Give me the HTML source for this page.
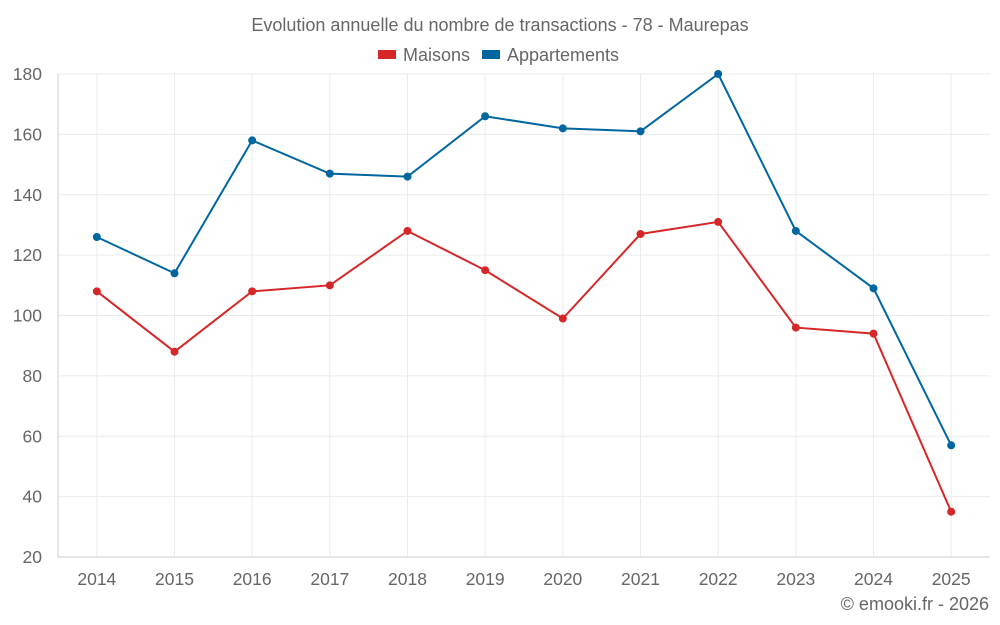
<!DOCTYPE html>
<html><head><meta charset="utf-8"><style>
html,body{margin:0;padding:0;background:#fff;}
svg{display:block;font-family:"Liberation Sans",sans-serif;}
</style></head><body>
<svg id="chart" width="1000" height="625" viewBox="0 0 1000 625" xmlns="http://www.w3.org/2000/svg">
<text x="500" y="31" text-anchor="middle" font-size="18" fill="#666">Evolution annuelle du nombre de transactions - 78 - Maurepas</text>
<g>
<g><rect x="378" y="50" width="18" height="9" fill="#d62728"/><text x="403" y="61" font-size="18" fill="#666">Maisons</text></g>
<g><rect x="482" y="50" width="18" height="9" fill="#0066a0"/><text x="507" y="61" font-size="18" fill="#666">Appartements</text></g>
</g>
<g id="grid"></g>
<g id="axes"></g>
<g id="series"></g>
<text x="989" y="610" text-anchor="end" font-size="18" fill="#666">© emooki.fr - 2026</text>
</svg>
<script>
const categories = ["2014","2015","2016","2017","2018","2019","2020","2021","2022","2023","2024","2025"];
const maisons = [108,88,108,110,128,115,99,127,131,96,94,35];
const appartements = [126,114,158,147,146,166,162,161,180,128,109,57];
const yTicks = [20,40,60,80,100,120,140,160,180];
const NS="http://www.w3.org/2000/svg";
const L=58,R=990,T=74,B=557,yMin=20,yMax=180;
const band=(R-L)/categories.length;
const x=i=>L+band*(i+0.5);
const y=v=>B-(v-yMin)/(yMax-yMin)*(B-T);
function mk(tag,attrs,parent){const e=document.createElementNS(NS,tag);for(const k in attrs)e.setAttribute(k,attrs[k]);parent.appendChild(e);return e;}
const grid=document.getElementById('grid'),axes=document.getElementById('axes'),series=document.getElementById('series');
yTicks.forEach(t=>{
  const ln=mk('line',{x1:L,x2:R,y1:y(t),y2:y(t),stroke:t===yMin?'#ccc':'#ebebeb','stroke-width':1},grid);
  
  
  const tx=mk('text',{x:42,y:y(t)+6,'text-anchor':'end','font-size':17.5,fill:'#666'},axes);
  tx.textContent=t;
  
  
});
categories.forEach((c,i)=>{
  const ln=mk('line',{x1:x(i),x2:x(i),y1:T,y2:B,stroke:'#ebebeb','stroke-width':1},grid);
  
  
  const tx=mk('text',{x:x(i),y:585,'text-anchor':'middle','font-size':17.5,fill:'#666'},axes);
  tx.textContent=c;
  
  
});
const yl=mk('line',{x1:L,x2:L,y1:T,y2:B,stroke:'#ccc'},axes);


function draw(vals,color,name){
  const p=mk('polyline',{points:vals.map((v,i)=>x(i)+','+y(v)).join(' '),fill:'none',stroke:color,'stroke-width':2},series);
  
  
  vals.forEach((v,i)=>{
    const c=mk('circle',{cx:x(i),cy:y(v),r:4,fill:color},series);
    
    
  });
}
draw(maisons,'#d62728','maisons');
draw(appartements,'#0066a0','appartements');
</script>
</body></html>
